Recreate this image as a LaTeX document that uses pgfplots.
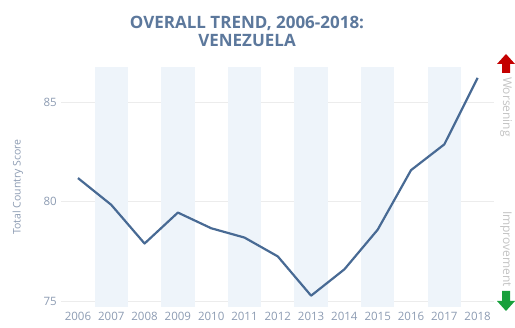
\documentclass[border=0pt]{standalone}
\usepackage{pgfplots}
\pgfplotsset{compat=1.18}
\usepackage{fontspec}
\setmainfont{Open Sans}
\definecolor{titlec}{RGB}{92,120,156}
\definecolor{linec}{RGB}{72,106,148}
\definecolor{bandc}{RGB}{238,244,250}
\definecolor{tickc}{RGB}{140,155,178}
\definecolor{gridc}{RGB}{236,236,236}
\definecolor{sidec}{RGB}{195,195,195}
\definecolor{redc}{RGB}{196,0,0}
\definecolor{greenc}{RGB}{24,160,60}
\begin{document}
\begin{tikzpicture}[x=1pt,y=1pt]
\useasboundingbox (0,0) rectangle (515,328);
\begin{axis}[
  at={(61.3pt,21pt)}, anchor=south west,
  scale only axis, width=433pt, height=240pt,
  xmin=2005.5, xmax=2018.5, ymin=74.7, ymax=86.8,
  axis line style={draw=none},
  major tick length=0pt,
  xtick={2006,...,2018},
  xticklabels={2006,2007,2008,2009,2010,2011,2012,2013,2014,2015,2016,2017,2018},
  ytick={75,80,85},
  ymajorgrids, grid style={gridc, line width=0.8pt},
  tick label style={font=\fontsize{11.5}{13}\selectfont, text=tickc},
  /pgf/number format/assume math mode=true,
  xticklabel style={yshift=-2pt},
  yticklabel style={xshift=-1pt},
  ylabel={Total Country Score},
  ylabel style={at={(axis description cs:-0.1,0.5)}, anchor=center, font=\fontsize{10.5}{12}\selectfont, text=tickc},
  clip=false,
]
\foreach \yr in {2007,2009,2011,2013,2015,2017} {
  \edef\tmp{\noexpand\fill[bandc] (axis cs:\yr-0.5,74.7) rectangle (axis cs:\yr+0.5,86.8);}
  \tmp
}
\addplot[linec, line width=2.2pt, line join=round] coordinates {
(2006,81.2) (2007,79.85) (2008,77.9) (2009,79.46) (2010,78.67) (2011,78.2)
(2012,77.25) (2013,75.27) (2014,76.6) (2015,78.6) (2016,81.6) (2017,82.9) (2018,86.25)
};
\end{axis}
\node[font=\bfseries\fontsize{17}{20}\selectfont, text=titlec] at (247,304.5) {OVERALL TREND, 2006-2018:};
\node[font=\bfseries\fontsize{17}{20}\selectfont, text=titlec] at (247,288) {VENEZUELA};
\node[rotate=-90, font=\fontsize{12}{14}\selectfont, text=sidec] at (506,221) {Worsening};
\node[rotate=-90, font=\fontsize{12}{14}\selectfont, text=sidec] at (506,79) {Improvement};
\fill[redc] (506,274) -- (515,264) -- (510,264) -- (510,255) -- (502,255) -- (502,264) -- (497,264) -- cycle;
\fill[greenc] (506,17) -- (515,27) -- (510,27) -- (510,37) -- (502,37) -- (502,27) -- (497,27) -- cycle;
\end{tikzpicture}
\end{document}
